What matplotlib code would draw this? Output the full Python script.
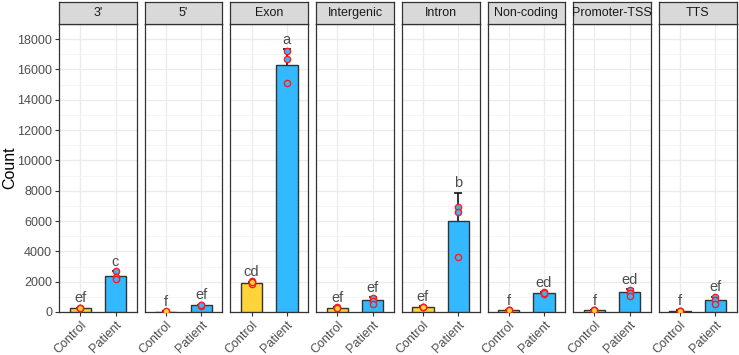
import numpy as np
import matplotlib
matplotlib.use('Agg')
import matplotlib.pyplot as plt
from matplotlib.ticker import MultipleLocator

plt.rcParams['font.family'] = ['Liberation Sans', 'DejaVu Sans']

# 数据
regions = ["3'", "5'", "Exon", "Intergenic", "Intron", "Non-coding", "Promoter-TSS", "TTS"]
groups = ["Control", "Patient"]

ctrl_mean = [245, 30, 1915, 265, 330, 110, 120, 80]
ctrl_sd = [40, 10, 70, 40, 40, 20, 20, 20]
pat_mean = [2375, 440, 16280, 770, 6030, 1255, 1300, 790]
pat_sd = [330, 40, 1060, 220, 1850, 60, 200, 220]

ctrl_pts = [[270, 250, 280], [30, 25, 35], [2030, 1870, 1950], [300, 250, 240],
            [330, 310, 340], [110, 100, 120], [120, 110, 130], [80, 70, 90]]
pat_pts = [[2700, 2310, 2180], [440, 420, 460], [17230, 16680, 15135], [950, 730, 510],
           [6950, 6620, 3610], [1320, 1200, 1250], [1480, 1250, 1080], [990, 770, 550]]

ctrl_letters = ['ef', 'f', 'cd', 'ef', 'ef', 'f', 'f', 'f']
pat_letters = ['c', 'ef', 'a', 'ef', 'b', 'ed', 'ed', 'ef']

colors = ['#FFD43B', '#33B9FF']
text_gray = '#4D4D4D'
border = '#333333'

W, H = 739, 355
fig = plt.figure(figsize=(W / 100, H / 100), dpi=100)

left0, pitch, pw = 59, 85.7, 77.7
ptop, pbot = 24, 312
strip_h = 22

for i, reg in enumerate(regions):
    x0 = left0 + i * pitch
    ax = fig.add_axes([x0 / W, 1 - pbot / H, pw / W, (pbot - ptop) / H])
    means = [ctrl_mean[i], pat_mean[i]]
    sds = [ctrl_sd[i], pat_sd[i]]
    pts = [ctrl_pts[i], pat_pts[i]]
    letters = [ctrl_letters[i], pat_letters[i]]
    xs = [1, 2]

    ax.errorbar(xs, means, yerr=sds, fmt='none', ecolor='black', elinewidth=1.1,
                capsize=3, capthick=1.1, zorder=2)
    ax.bar(xs, means, width=0.6, color=colors, edgecolor=border, linewidth=1.0, zorder=3)
    for j in range(2):
        ax.plot([xs[j]] * len(pts[j]), pts[j], 'o', markersize=4.5,
                markerfacecolor=colors[j], markeredgecolor='#FF1A1A',
                markeredgewidth=1.0, zorder=4)
        top = max(means[j] + sds[j], max(pts[j]))
        ax.text(xs[j], top + 150, letters[j], ha='center', va='bottom',
                fontsize=10.5, color=text_gray, zorder=5)

    ax.set_xlim(0.4, 2.6)
    ax.set_ylim(0, 19000)
    ax.yaxis.set_major_locator(MultipleLocator(2000))
    ax.yaxis.set_minor_locator(MultipleLocator(1000))
    ax.set_xticks(xs)
    ax.set_xticklabels(groups, rotation=45, ha='right', rotation_mode='anchor',
                       fontsize=9, color=text_gray)
    ax.grid(True, which='major', color='#EBEBEB', linewidth=0.9, zorder=0)
    ax.grid(True, which='minor', axis='y', color='#F2F2F2', linewidth=0.5, zorder=0)
    ax.set_axisbelow(True)
    ax.tick_params(axis='both', which='major', length=3, color=border, width=0.8, pad=2)
    ax.tick_params(axis='y', which='minor', length=0)
    ax.tick_params(axis='y', labelsize=9, labelcolor=text_gray)
    if i > 0:
        ax.tick_params(axis='y', left=False, labelleft=False)
    for s in ax.spines.values():
        s.set_color(border)
        s.set_linewidth(0.9)
    if i == 0:
        ax.set_ylabel('Count', fontsize=11.5, va='center')
        ax.yaxis.set_label_coords(-49 / pw, 0.5)

    # 分面标题
    sax = fig.add_axes([x0 / W, 1 - ptop / H, pw / W, strip_h / H])
    sax.set_facecolor('#D9D9D9')
    sax.set_xticks([])
    sax.set_yticks([])
    for s in sax.spines.values():
        s.set_color(border)
        s.set_linewidth(0.9)
    sax.text(0.5, 0.5, reg, ha='center', va='center', fontsize=9,
             color='#1A1A1A', transform=sax.transAxes)

plt.savefig('out.png', dpi=100)
